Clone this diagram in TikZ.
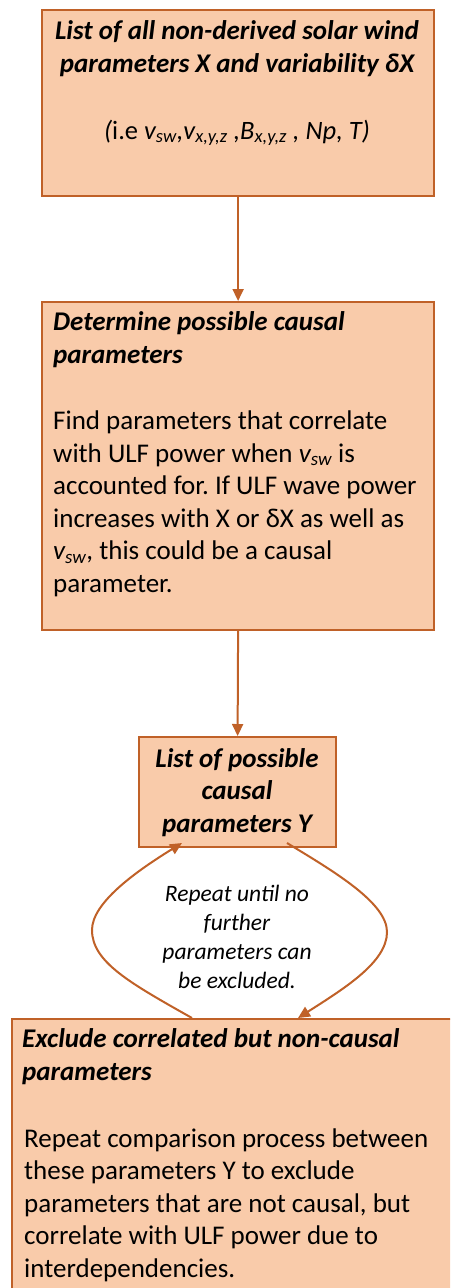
\documentclass[tikz,border=0pt]{standalone}
\usepackage{fontspec}
\setmainfont{Carlito}
\usetikzlibrary{arrows.meta}
\definecolor{boxfill}{HTML}{F9CBAA}
\definecolor{boxline}{RGB}{192,97,40}
\frenchspacing
\begin{document}
\begin{tikzpicture}[x=1pt,y=-1pt,
  box/.style={draw=boxline,fill=boxfill,line width=2.2pt,rectangle,inner sep=0pt,anchor=north west},
  conn/.style={draw=boxline,line width=2pt,-{Triangle[length=12pt,width=11pt]}},
  ttl/.style={font=\fontsize{27}{32.5}\selectfont\bfseries\itshape,inner sep=0pt},
  bdy/.style={font=\fontsize{27}{32.5}\selectfont,inner sep=0pt},
  lp/.style={font=\fontsize{23.5}{28.7}\selectfont\itshape,inner sep=0pt,align=center}]
\clip (0,0) rectangle (450,1288);
\fill[white] (0,0) rectangle (450,1288);
% boxes
\node[box,minimum width=392pt,minimum height=186pt] (b1) at (41,9) {};
\node[box,minimum width=392pt,minimum height=328pt] (b2) at (41,301) {};
\node[box,minimum width=197pt,minimum height=110pt] (b3) at (138,736) {};
\node[box,minimum width=460pt,minimum height=300pt] (b4) at (11,1018) {};
% box 1 text (base anchor = last line baseline)
\node[ttl,align=center,anchor=base] (t1) at (237,72) {List of all non-derived solar wind\\parameters X and variability δX};
\node[font=\fontsize{26.5}{32}\selectfont,inner sep=0pt,anchor=base] (t1b) at (237,139) {\textit{(}i.e \textit{v\textsubscript{sw},v\textsubscript{x,y,z} ,B\textsubscript{x,y,z} , Np, T)}};
% box 2 text
\node[ttl,align=left,anchor=base west] (t2) at (53,363) {Determine possible causal\\parameters};
\node[bdy,align=left,anchor=base west] (t2b) at (53,592) {Find parameters that correlate\\with ULF power when \textit{v\textsubscript{sw}} is\\accounted for. If ULF wave power\\increases with X or δX as well as\\\textit{v\textsubscript{sw}}, this could be a causal\\parameter.};
% box 3 text
\node[ttl,align=center,anchor=base] (t3) at (237,832) {List of possible\\causal\\parameters Y};
% box 4 text
\node[ttl,align=left,anchor=base west] (t4) at (22,1080) {Exclude correlated but non-causal\\parameters};
\node[bdy,align=left,anchor=base west] (t4b) at (24,1277) {Repeat comparison process between\\these parameters Y to exclude\\parameters that are not causal, but\\correlate with ULF power due to\\interdependencies.};
% loop text
\node[lp,anchor=base] (lt) at (237,988) {Repeat until no\\further\\parameters can\\be excluded.};
% connectors
\draw[conn] (b1.south) -- (b2.north);
\draw[conn] (b2.south) -- (b3.north);
\coordinate (l0) at (192,1018);
\coordinate (l1) at (92,930);
\coordinate (l2) at (182,843);
\coordinate (r0) at (287,843);
\coordinate (r1) at (387,932);
\coordinate (r2) at (298,1018);
\draw[conn] (l0) .. controls (130,983) and (92,962) .. (l1) .. controls (92,903) and (135,872) .. (l2);
\draw[conn] (r0) .. controls (335,872) and (387,903) .. (r1) .. controls (387,962) and (345,988) .. (r2);
\end{tikzpicture}
\end{document}
